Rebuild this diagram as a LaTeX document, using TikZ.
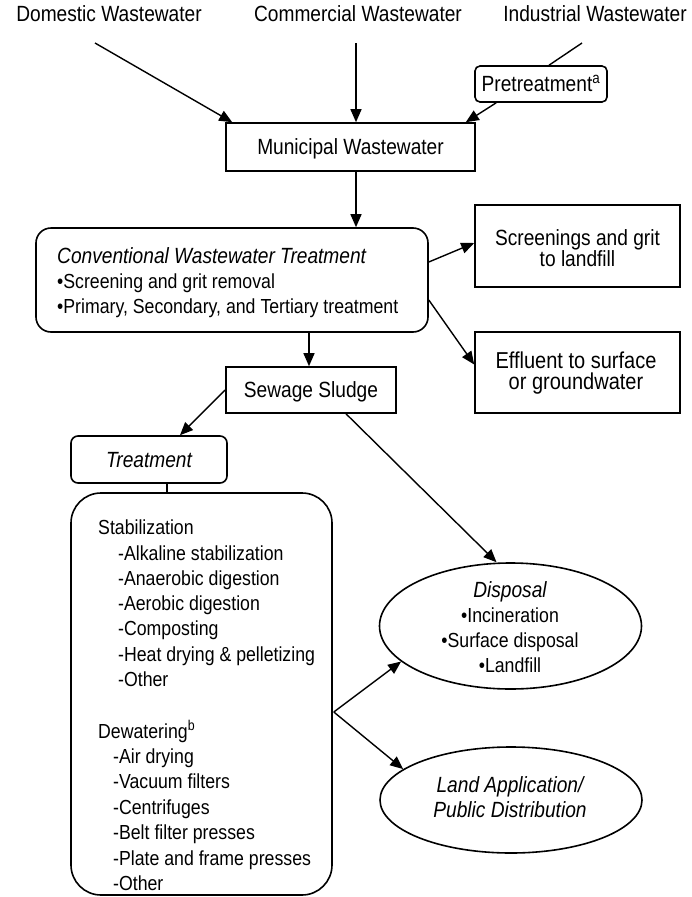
\documentclass[tikz,border=0pt]{standalone}
\usepackage{fontspec}
\setmainfont[FakeStretch=0.87]{Liberation Sans}
\usetikzlibrary{arrows.meta,calc,shapes.geometric}
\newcommand\lstfont{\fontsize{20.35}{25}\selectfont}
\begin{document}
\begin{tikzpicture}[x=1pt,y=-1pt,
  every node/.style={font=\fontsize{22}{25}\selectfont},
  box/.style={draw, line width=1.6pt, inner sep=0pt, text height=15pt, text depth=0pt},
  rbox/.style={box, rounded corners=#1},
  oval/.style={draw, ellipse, line width=1.6pt, inner sep=0pt},
  lbl/.style={inner sep=0pt, anchor=base},
  lbll/.style={inner sep=0pt, anchor=base west},
  lst/.style={font=\lstfont},
  arr/.style={line width=1.4pt, -{Triangle[length=13pt,width=11pt]}},
  conn/.style={line width=1.4pt}]
\useasboundingbox (0,0) rectangle (692,897);
% boxes
\node[box, minimum width=249, minimum height=48] (mun) at (350.5,147) {Municipal Wastewater};
\node[rbox=5pt, minimum width=132, minimum height=36] (pre) at (541,84) {Pretreatment\textsuperscript{a}};
\node[rbox=15pt, minimum width=392, minimum height=104] (conv) at (232,280) {};
\node[box, minimum width=205, minimum height=82] (scr) at (577.5,246) {};
\node[box, minimum width=205, minimum height=81] (eff) at (577.5,372.5) {};
\node[box, minimum width=170, minimum height=46] (sludge) at (311,390) {Sewage Sludge};
\node[rbox=7pt, minimum width=156, minimum height=47] (treat) at (149,459.5) {\itshape Treatment};
\node[rbox=30pt, minimum width=261, minimum height=402] (big) at (201.5,694) {};
\node[oval, minimum width=262, minimum height=126] (disp) at (510.5,626) {};
\node[oval, minimum width=262, minimum height=106] (land) at (511,800) {};
% top labels
\node[lbl] (dom) at (109,21) {Domestic Wastewater};
\node[lbl] (com) at (358,21) {Commercial Wastewater};
\node[lbl] (ind) at (595,21) {Industrial Wastewater};
% conventional text
\node[lbll] (conv1) at (57,263) {\itshape Conventional Wastewater Treatment};
\node[lbll, lst] (conv2) at (57,288) {\textbullet Screening and grit removal};
\node[lbll, lst] (conv3) at (57,313) {\textbullet Primary, Secondary, and Tertiary treatment};
% side boxes text
\node[lbl] (scr1) at (577.5,245) {Screenings and grit};
\node[lbl] (scr2) at (577.5,266) {to landfill};
\node[lbl, font=\fontsize{23}{25}\selectfont] (eff1) at (576,368) {Effluent to surface};
\node[lbl, font=\fontsize{23}{25}\selectfont] (eff2) at (576,389) {or groundwater};
% disposal
\node[lbl] (d1) at (510,597) {\itshape Disposal};
\node[lbl, lst] (d2) at (510,622) {\textbullet Incineration};
\node[lbl, lst] (d3) at (510,647) {\textbullet Surface disposal};
\node[lbl, lst] (d4) at (510,672) {\textbullet Landfill};
% land
\node[lbl] (l1) at (510,792) {\itshape Land Application/};
\node[lbl] (l2) at (510,817) {\itshape Public Distribution};
% big box text
\node[lbll, lst] (s0) at (98,534) {Stabilization};
\foreach \t [count=\i] in {Alkaline stabilization, Anaerobic digestion, Aerobic digestion, Composting, Heat drying \& pelletizing, Other}
  \node[lbll, lst] (s\i) at (118,{535+25.2*\i}) {-\t};
\node[lbll, lst] (w0) at (98,738) {Dewatering\textsuperscript{b}};
\foreach \t [count=\i] in {Air drying, Vacuum filters, Centrifuges, Belt filter presses, Plate and frame presses, Other}
  \node[lbll, lst] (w\i) at (113,{738+25.4*\i}) {-\t};
% connectors
\coordinate (d0) at (95,43);
\coordinate (c0) at (356,43);
\coordinate (i0) at (582,43);
\draw[arr] (d0) -- ($(mun.north west)+(7,0)$);
\draw[arr] (c0) -- (c0 |- mun.north);
\draw[conn] (i0) -- ($(pre.north)+(8,0)$);
\draw[arr] ($(pre.south west)+(22,0)$) -- ($(mun.north east)+(-10,0)$);
\draw[arr] (mun.south -| c0) -- (conv.north -| c0);
\draw[arr] ($(conv.east)+(0,-18)$) -- ($(scr.west)+(0,-3)$);
\draw[arr] ($(conv.east)+(0,20)$) -- ($(eff.west)+(0,-8)$);
\draw[arr] ($(conv.south)+(77,0)$) -- ($(sludge.north)+(-2,0)$);
\draw[arr] (sludge.west) -- ($(treat.north)+(31,0)$);
\draw[arr] ($(sludge.south)+(35,0)$) -- ($(disp.north)+(-14,0)$);
\draw[conn] ($(treat.south)+(18,0)$) -- ($(big.north)+(-34.5,0)$);
\draw[arr] ($(big.east)+(1,18)$) -- (disp.198);
\draw[arr] ($(big.east)+(1,18)$) -- (land.164);
\end{tikzpicture}
\end{document}
